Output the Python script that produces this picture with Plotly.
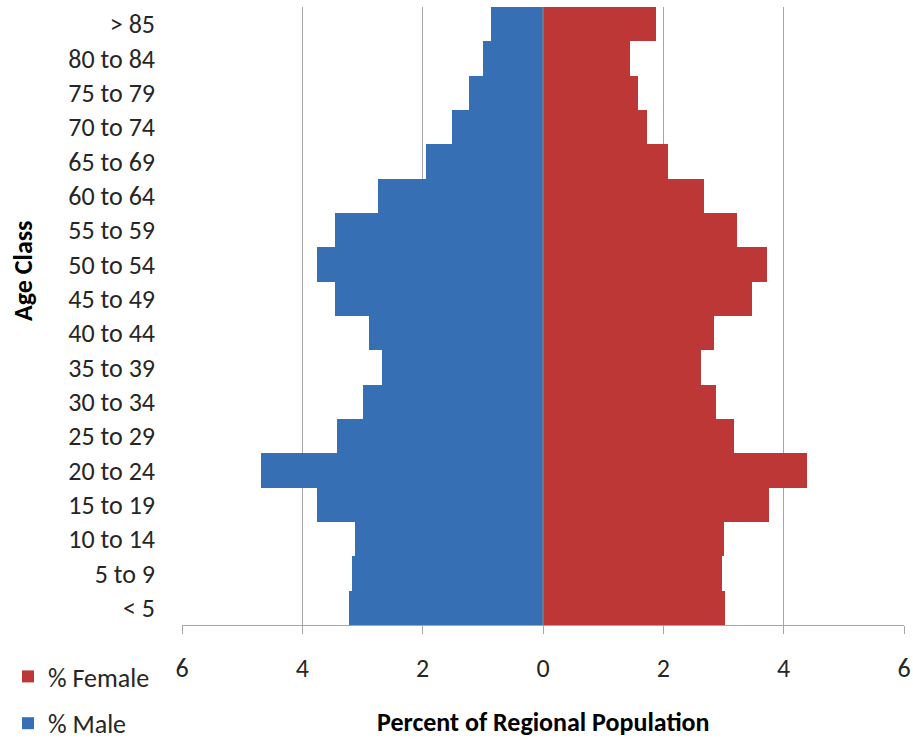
import plotly.graph_objects as go

age_classes = ["< 5", "5 to 9", "10 to 14", "15 to 19", "20 to 24", "25 to 29",
               "30 to 34", "35 to 39", "40 to 44", "45 to 49", "50 to 54",
               "55 to 59", "60 to 64", "65 to 69", "70 to 74", "75 to 79",
               "80 to 84", "> 85"]
male_pct = [3.23, 3.18, 3.13, 3.75, 4.68, 3.42, 3.0, 2.68, 2.9, 3.45, 3.75,
            3.45, 2.75, 1.95, 1.52, 1.23, 1.0, 0.87]
female_pct = [3.03, 2.97, 3.0, 3.76, 4.38, 3.18, 2.88, 2.62, 2.85, 3.48, 3.72,
              3.23, 2.68, 2.07, 1.73, 1.58, 1.45, 1.88]
x_tickvals = [-6, -4, -2, 0, 2, 4, 6]
x_ticktext = ["6", "4", "2", "0", "2", "4", "6"]

FONT = "Calibri, Carlito, Lato, sans-serif"
FS = 26

fig = go.Figure()
fig.add_trace(go.Bar(
    y=age_classes, x=female_pct, orientation="h", name="% Female",
    marker=dict(color="#bd3736", line=dict(width=0)),
    legendgroup="f", legendrank=1,
))
fig.add_trace(go.Bar(
    y=age_classes, x=[-v for v in male_pct], orientation="h", name="% Male",
    marker=dict(color="#366fb4", line=dict(width=0)),
    legendgroup="m", legendrank=2,
))

fig.add_shape(type="line", xref="x", yref="paper", x0=0, x1=0, y0=0, y1=1,
              line=dict(color="#8c8c8c", width=1), layer="above")

fig.update_layout(
    width=913, height=740,
    margin=dict(l=182, r=9, t=7, b=115, autoexpand=False),
    paper_bgcolor="white", plot_bgcolor="white",
    barmode="relative", bargap=0,
    font=dict(family=FONT, size=FS, color="#262626"),
    showlegend=True,
    legend=dict(x=-0.241, y=-0.0453, xanchor="left", yanchor="top",
                orientation="v", tracegroupgap=10,
                font=dict(family=FONT, size=FS, color="#262626"),
                bgcolor="rgba(0,0,0,0)"),
    xaxis=dict(range=[-6, 6], tickvals=x_tickvals, ticktext=x_ticktext,
               showgrid=True, gridcolor="#a6a6a6", gridwidth=1,
               zeroline=False, showline=True, linecolor="#a6a6a6", linewidth=1,
               ticks="outside", ticklen=8, tickcolor="#a6a6a6",
               ticklabelstandoff=12,
               tickfont=dict(family=FONT, size=FS, color="#262626")),
    yaxis=dict(showgrid=False, zeroline=False, showline=False,
               ticks="", ticklabelstandoff=26,
               tickfont=dict(family=FONT, size=FS, color="#262626")),
    annotations=[
        dict(text="<b>Percent of Regional Population</b>", xref="paper", yref="paper",
             x=0.5, y=-0.157, xanchor="center", yanchor="middle", showarrow=False,
             font=dict(family=FONT, size=FS, color="#000000")),
        dict(text="<b>Age Class</b>", xref="paper", yref="paper",
             x=-0.2202, y=0.5728, xanchor="center", yanchor="middle", showarrow=False,
             textangle=-90, font=dict(family=FONT, size=FS, color="#000000")),
    ],
)

fig.write_html(
    "out.html",
    config={"displayModeBar": False},
    post_script="document.body.style.margin='0';document.body.style.overflow='hidden';",
)
